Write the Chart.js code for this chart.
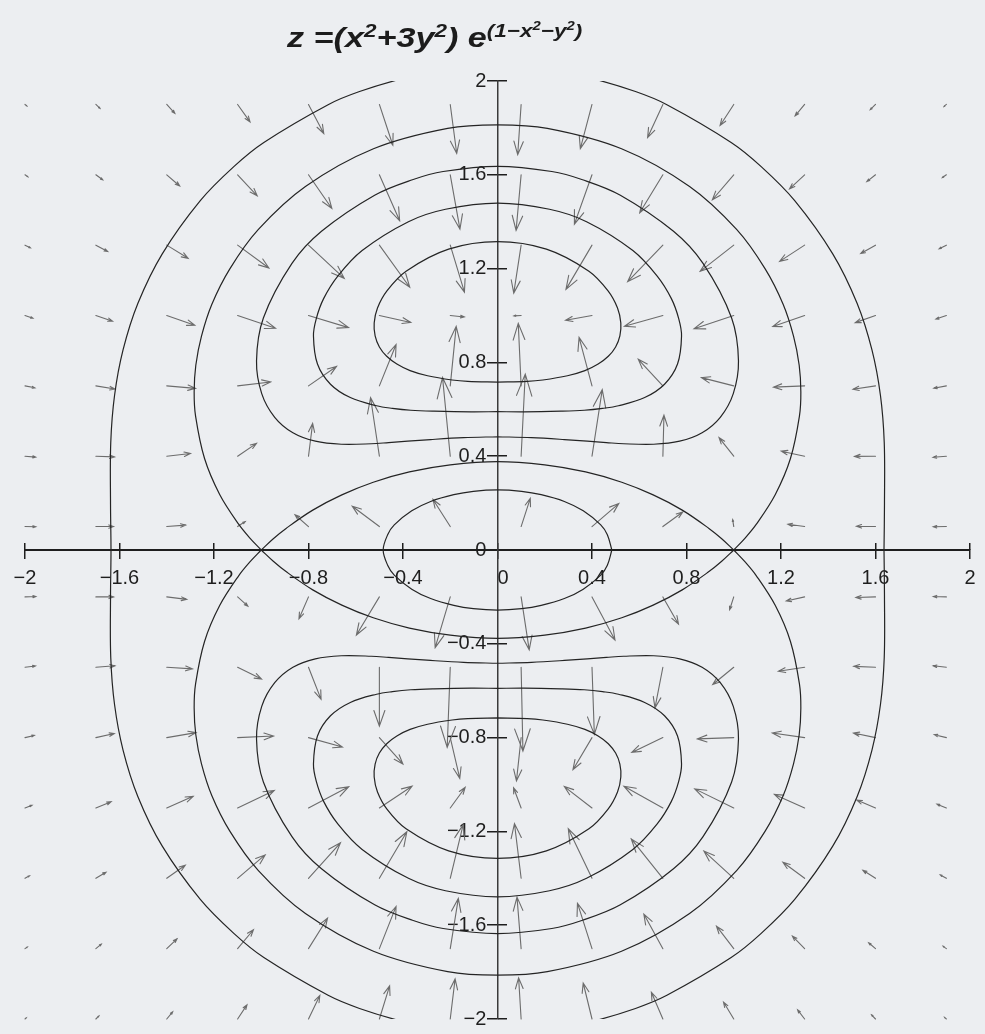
<!DOCTYPE html>
<html>
<head>
<meta charset="utf-8">
<title>z=(x²+3y²) e^(1-x²-y²)</title>
<script src="https://cdn.jsdelivr.net/npm/chart.js@4.4.1/dist/chart.umd.min.js"></script>
<style>
    html, body { margin: 0; padding: 0; background: #eceef1; }
    #contenedor { position: relative; width: 985px; height: 1034px; }
    #grafica { position: absolute; left: 0; top: 0; }
    #titulo {
        position: absolute; left: 287px; top: 24px;
        font: italic bold 28px "Liberation Sans", Arial, sans-serif;
        line-height: 28px; color: #1c1c1c; white-space: nowrap;
        transform: scaleX(1.22); transform-origin: 0 0;
    }
    #titulo sup { font-size: 66%; vertical-align: baseline; position: relative; top: -0.55em; }
</style>
</head>
<body>
<div id="contenedor">
    <canvas id="grafica" width="985" height="1034"></canvas>
    <div id="titulo">z =(x<sup>2</sup>+3y<sup>2</sup>) e<sup>(1−x<sup>2</sup>−y<sup>2</sup>)</sup></div>
</div>
<script>
window.onload = main;

// marcas de los ejes
const marcas = [-2, -1.6, -1.2, -0.8, -0.4, 0, 0.4, 0.8, 1.2, 1.6, 2];
const etiquetasX = ['−2', '−1.6', '−1.2', '−0.8', '−0.4', '0', '0.4', '0.8', '1.2', '1.6', '2'];
const etiquetasY = ['−2', '−1.6', '−1.2', '−0.8', '−0.4', '0', '0.4', '0.8', '1.2', '1.6', '2'];

// malla del campo de gradientes
const mallaX = [-2, -1.7, -1.4, -1.1, -0.8, -0.5, -0.2, 0.1, 0.4, 0.7, 1.0, 1.3, 1.6, 1.9];
const mallaY = [1.9, 1.6, 1.3, 1.0, 0.7, 0.4, 0.1, -0.2, -0.5, -0.8, -1.1, -1.4, -1.7, -2.0];

// componente x del gradiente (una fila por cada valor de mallaY)
const gradU = [
    [0.10, 0.23, 0.45, 0.69, 0.85, 0.75, 0.36, -0.19, -0.65, -0.85, -0.76, -0.53, -0.29, -0.13],
    [0.16, 0.38, 0.72, 1.09, 1.30, 1.13, 0.54, -0.28, -0.98, -1.29, -1.19, -0.84, -0.48, -0.22],
    [0.30, 0.66, 1.19, 1.74, 1.99, 1.69, 0.79, -0.41, -1.45, -1.96, -1.87, -1.39, -0.82, -0.40],
    [0.44, 0.93, 1.56, 2.11, 2.23, 1.75, 0.78, -0.40, -1.47, -2.14, -2.21, -1.77, -1.13, -0.58],
    [0.55, 1.06, 1.60, 1.84, 1.56, 0.93, 0.33, -0.16, -0.72, -1.37, -1.80, -1.73, -1.25, -0.70],
    [0.59, 1.04, 1.32, 1.05, 0.23, -0.49, -0.43, 0.23, 0.57, 0.06, -0.82, -1.30, -1.17, -0.74],
    [0.60, 0.98, 1.05, 0.42, -0.75, -1.51, -0.96, 0.51, 1.49, 1.11, -0.06, -0.93, -1.06, -0.73],
    [0.60, 0.99, 1.11, 0.57, -0.53, -1.28, -0.84, 0.45, 1.28, 0.87, -0.23, -1.02, -1.09, -0.73],
    [0.58, 1.06, 1.43, 1.33, 0.70, 0.00, -0.17, 0.10, 0.13, -0.44, -1.17, -1.46, -1.21, -0.73],
    [0.52, 1.03, 1.63, 2.00, 1.89, 1.31, 0.53, -0.26, -1.06, -1.73, -2.03, -1.80, -1.23, -0.67],
    [0.39, 0.85, 1.47, 2.04, 2.24, 1.82, 0.83, -0.42, -1.54, -2.17, -2.17, -1.68, -1.04, -0.52],
    [0.25, 0.56, 1.03, 1.53, 1.78, 1.53, 0.72, -0.37, -1.32, -1.76, -1.66, -1.21, -0.70, -0.34],
    [0.13, 0.30, 0.57, 0.88, 1.06, 0.93, 0.45, -0.23, -0.81, -1.06, -0.96, -0.68, -0.38, -0.18],
    [0.07, 0.17, 0.33, 0.52, 0.63, 0.57, 0.27, -0.14, -0.49, -0.64, -0.57, -0.39, -0.22, -0.10]
];

// componente y del gradiente
const gradV = [
    [-0.08, -0.22, -0.50, -0.98, -1.63, -2.29, -2.75, -2.82, -2.48, -1.86, -1.18, -0.64, -0.29, -0.11],
    [-0.11, -0.28, -0.63, -1.18, -1.89, -2.58, -3.05, -3.12, -2.77, -2.13, -1.40, -0.79, -0.38, -0.15],
    [-0.15, -0.36, -0.74, -1.28, -1.86, -2.36, -2.64, -2.69, -2.48, -2.05, -1.47, -0.91, -0.47, -0.20],
    [-0.15, -0.32, -0.55, -0.72, -0.68, -0.39, -0.08, -0.02, -0.27, -0.60, -0.74, -0.62, -0.40, -0.20],
    [-0.11, -0.18, -0.14, 0.22, 1.09, 2.32, 3.34, 3.51, 2.72, 1.49, 0.46, -0.07, -0.19, -0.13],
    [-0.05, -0.04, 0.15, 0.72, 1.84, 3.28, 4.42, 4.61, 3.73, 2.30, 1.04, 0.28, -0.01, -0.06],
    [-0.01, 0.00, 0.08, 0.28, 0.66, 1.14, 1.52, 1.58, 1.29, 0.82, 0.39, 0.13, 0.02, -0.01],
    [0.02, 0.00, -0.14, -0.52, -1.23, -2.14, -2.85, -2.97, -2.42, -1.53, -0.72, -0.23, -0.03, 0.02],
    [0.07, 0.08, -0.09, -0.66, -1.80, -3.30, -4.50, -4.70, -3.77, -2.28, -0.97, -0.22, 0.05, 0.08],
    [0.12, 0.23, 0.28, 0.09, -0.53, -1.48, -2.29, -2.43, -1.80, -0.83, -0.07, 0.26, 0.26, 0.16],
    [0.15, 0.35, 0.65, 0.98, 1.19, 1.22, 1.15, 1.13, 1.20, 1.22, 1.07, 0.76, 0.44, 0.21],
    [0.14, 0.34, 0.73, 1.31, 1.99, 2.61, 3.01, 3.07, 2.78, 2.21, 1.53, 0.90, 0.45, 0.19],
    [0.09, 0.25, 0.55, 1.06, 1.71, 2.37, 2.82, 2.89, 2.55, 1.94, 1.26, 0.70, 0.33, 0.13],
    [0.06, 0.17, 0.40, 0.79, 1.32, 1.86, 2.25, 2.31, 2.02, 1.50, 0.95, 0.51, 0.23, 0.09]
];

const escalaFlechas = 0.076;

// curvas de nivel z = 0.5
const nivel05Centro = [
    [0.484, 0], [0.465, 0.065], [0.437, 0.107], [0.363, 0.167], [0.283, 0.207], [0.185, 0.236], [0.102, 0.250], [0, 0.256],
    [-0.102, 0.250], [-0.185, 0.236], [-0.283, 0.207], [-0.363, 0.167], [-0.437, 0.107], [-0.465, 0.065], [-0.484, 0],
    [-0.465, -0.065], [-0.437, -0.107], [-0.363, -0.167], [-0.283, -0.207], [-0.185, -0.236], [-0.102, -0.250], [0, -0.256],
    [0.102, -0.250], [0.185, -0.236], [0.283, -0.207], [0.363, -0.167], [0.437, -0.107], [0.465, -0.065], [0.484, 0]
];
const nivel05Exterior = [
    [1.636, 0], [1.638, 0.196], [1.637, 0.458], [1.621, 0.659], [1.585, 0.853], [1.522, 1.052], [1.419, 1.263], [1.258, 1.490],
    [1.115, 1.636], [0.989, 1.738], [0.717, 1.899], [0.584, 1.955], [0.395, 2.012], [0.243, 2.041], [0, 2.058],
    [-0.243, 2.041], [-0.395, 2.012], [-0.584, 1.955], [-0.717, 1.899], [-0.989, 1.738], [-1.115, 1.636], [-1.258, 1.490],
    [-1.419, 1.263], [-1.522, 1.052], [-1.585, 0.853], [-1.621, 0.659], [-1.637, 0.458], [-1.638, 0.196], [-1.636, 0],
    [-1.638, -0.196], [-1.637, -0.458], [-1.621, -0.659], [-1.585, -0.853], [-1.522, -1.052], [-1.419, -1.263], [-1.258, -1.490],
    [-1.115, -1.636], [-0.989, -1.738], [-0.717, -1.899], [-0.584, -1.955], [-0.395, -2.012], [-0.243, -2.041], [0, -2.058],
    [0.243, -2.041], [0.395, -2.012], [0.584, -1.955], [0.717, -1.899], [0.989, -1.738], [1.115, -1.636], [1.258, -1.490],
    [1.419, -1.263], [1.522, -1.052], [1.585, -0.853], [1.621, -0.659], [1.637, -0.458], [1.638, -0.196], [1.636, 0]
];

// z = 1 (se cruza en x = ±1)
const nivel1CentroSup = [
    [1, 0], [0.949, 0.048], [0.895, 0.092], [0.782, 0.170], [0.659, 0.235], [0.526, 0.289], [0.373, 0.333], [0.200, 0.363], [0, 0.377],
    [-0.200, 0.363], [-0.373, 0.333], [-0.526, 0.289], [-0.659, 0.235], [-0.782, 0.170], [-0.895, 0.092], [-0.949, 0.048], [-1, 0]
];
const nivel1CentroInf = [
    [1, 0], [0.949, -0.048], [0.895, -0.092], [0.782, -0.170], [0.659, -0.235], [0.526, -0.289], [0.373, -0.333], [0.200, -0.363], [0, -0.377],
    [-0.200, -0.363], [-0.373, -0.333], [-0.526, -0.289], [-0.659, -0.235], [-0.782, -0.170], [-0.895, -0.092], [-0.949, -0.048], [-1, 0]
];
const nivel1ExteriorSup = [
    [1, 0], [1.049, 0.052], [1.095, 0.109], [1.176, 0.237], [1.240, 0.390], [1.278, 0.571], [1.284, 0.674], [1.277, 0.788],
    [1.253, 0.912], [1.209, 1.048], [1.133, 1.199], [1.013, 1.366], [0.813, 1.550], [0.525, 1.711], [0.211, 1.798], [0, 1.813],
    [-0.211, 1.798], [-0.525, 1.711], [-0.813, 1.550], [-1.013, 1.366], [-1.133, 1.199], [-1.209, 1.048], [-1.253, 0.912],
    [-1.277, 0.788], [-1.284, 0.674], [-1.278, 0.571], [-1.240, 0.390], [-1.176, 0.237], [-1.095, 0.109], [-1.049, 0.052], [-1, 0]
];
const nivel1ExteriorInf = [
    [1, 0], [1.049, -0.052], [1.095, -0.109], [1.176, -0.237], [1.240, -0.390], [1.278, -0.571], [1.284, -0.674], [1.277, -0.788],
    [1.253, -0.912], [1.209, -1.048], [1.133, -1.199], [1.013, -1.366], [0.813, -1.550], [0.525, -1.711], [0.211, -1.798], [0, -1.813],
    [-0.211, -1.798], [-0.525, -1.711], [-0.813, -1.550], [-1.013, -1.366], [-1.133, -1.199], [-1.209, -1.048], [-1.253, -0.912],
    [-1.277, -0.788], [-1.284, -0.674], [-1.278, -0.571], [-1.240, -0.390], [-1.176, -0.237], [-1.095, -0.109], [-1.049, -0.052], [-1, 0]
];

// z = 1.5
const nivel15Sup = [
    [0, 0.483], [0.144, 0.479], [0.283, 0.471], [0.380, 0.464], [0.461, 0.458], [0.534, 0.453], [0.661, 0.451], [0.771, 0.464],
    [0.866, 0.500], [0.943, 0.566], [0.998, 0.667], [1.020, 0.806], [0.991, 0.989], [0.870, 1.222], [0.745, 1.359], [0.520, 1.513],
    [0.360, 1.579], [0.230, 1.614], [0, 1.636], [-0.230, 1.614], [-0.360, 1.579], [-0.520, 1.513], [-0.745, 1.359], [-0.870, 1.222],
    [-0.991, 0.989], [-1.020, 0.806], [-0.998, 0.667], [-0.943, 0.566], [-0.866, 0.500], [-0.771, 0.464], [-0.661, 0.451],
    [-0.534, 0.453], [-0.461, 0.458], [-0.380, 0.464], [-0.283, 0.471], [-0.144, 0.479], [0, 0.483]
];
const nivel15Inf = [
    [0, -0.483], [0.144, -0.479], [0.283, -0.471], [0.380, -0.464], [0.461, -0.458], [0.534, -0.453], [0.661, -0.451], [0.771, -0.464],
    [0.866, -0.500], [0.943, -0.566], [0.998, -0.667], [1.020, -0.806], [0.991, -0.989], [0.870, -1.222], [0.745, -1.359], [0.520, -1.513],
    [0.360, -1.579], [0.230, -1.614], [0, -1.636], [-0.230, -1.614], [-0.360, -1.579], [-0.520, -1.513], [-0.745, -1.359], [-0.870, -1.222],
    [-0.991, -0.989], [-1.020, -0.806], [-0.998, -0.667], [-0.943, -0.566], [-0.866, -0.500], [-0.771, -0.464], [-0.661, -0.451],
    [-0.534, -0.453], [-0.461, -0.458], [-0.380, -0.464], [-0.283, -0.471], [-0.144, -0.479], [0, -0.483]
];

// z = 2
const nivel2Sup = [
    [0, 0.590], [0.112, 0.589], [0.269, 0.592], [0.367, 0.596], [0.445, 0.604], [0.512, 0.615], [0.623, 0.650], [0.707, 0.707],
    [0.762, 0.793], [0.779, 0.913], [0.767, 0.987], [0.736, 1.072], [0.676, 1.168], [0.573, 1.277], [0.377, 1.400], [0.220, 1.453],
    [0, 1.479], [-0.220, 1.453], [-0.377, 1.400], [-0.573, 1.277], [-0.676, 1.168], [-0.736, 1.072], [-0.767, 0.987], [-0.779, 0.913],
    [-0.762, 0.793], [-0.707, 0.707], [-0.623, 0.650], [-0.512, 0.615], [-0.445, 0.604], [-0.367, 0.596], [-0.269, 0.592],
    [-0.112, 0.589], [0, 0.590]
];
const nivel2Inf = [
    [0, -0.590], [0.112, -0.589], [0.269, -0.592], [0.367, -0.596], [0.445, -0.604], [0.512, -0.615], [0.623, -0.650], [0.707, -0.707],
    [0.762, -0.793], [0.779, -0.913], [0.767, -0.987], [0.736, -1.072], [0.676, -1.168], [0.573, -1.277], [0.377, -1.400], [0.220, -1.453],
    [0, -1.479], [-0.220, -1.453], [-0.377, -1.400], [-0.573, -1.277], [-0.676, -1.168], [-0.736, -1.072], [-0.767, -0.987], [-0.779, -0.913],
    [-0.762, -0.793], [-0.707, -0.707], [-0.623, -0.650], [-0.512, -0.615], [-0.445, -0.604], [-0.367, -0.596], [-0.269, -0.592],
    [-0.112, -0.589], [0, -0.590]
];

// z = 2.5
const nivel25Sup = [
    [0, 0.716], [0.126, 0.719], [0.192, 0.725], [0.296, 0.743], [0.370, 0.765], [0.426, 0.793], [0.469, 0.826], [0.500, 0.866],
    [0.518, 0.913], [0.522, 0.968], [0.508, 1.032], [0.468, 1.105], [0.387, 1.189], [0.207, 1.283], [0, 1.315],
    [-0.207, 1.283], [-0.387, 1.189], [-0.468, 1.105], [-0.508, 1.032], [-0.522, 0.968], [-0.518, 0.913], [-0.500, 0.866],
    [-0.469, 0.826], [-0.426, 0.793], [-0.370, 0.765], [-0.296, 0.743], [-0.192, 0.725], [-0.126, 0.719], [0, 0.716]
];
const nivel25Inf = [
    [0, -0.716], [0.126, -0.719], [0.192, -0.725], [0.296, -0.743], [0.370, -0.765], [0.426, -0.793], [0.469, -0.826], [0.500, -0.866],
    [0.518, -0.913], [0.522, -0.968], [0.508, -1.032], [0.468, -1.105], [0.387, -1.189], [0.207, -1.283], [0, -1.315],
    [-0.207, -1.283], [-0.387, -1.189], [-0.468, -1.105], [-0.508, -1.032], [-0.522, -0.968], [-0.518, -0.913], [-0.500, -0.866],
    [-0.469, -0.826], [-0.426, -0.793], [-0.370, -0.765], [-0.296, -0.743], [-0.192, -0.725], [-0.126, -0.719], [0, -0.716]
];

const curvas = [
    nivel05Centro, nivel05Exterior,
    nivel1CentroSup, nivel1CentroInf, nivel1ExteriorSup, nivel1ExteriorInf,
    nivel15Sup, nivel15Inf, nivel2Sup, nivel2Inf, nivel25Sup, nivel25Inf
];

function main() {
    dibujarGrafica();
}

// dibuja las flechas del gradiente con las escalas de la grafica
const pluginFlechas = {
    id: 'flechas',
    beforeDatasetsDraw: function (chart) {
        var ctx = chart.ctx;
        var ex = chart.scales.x;
        var ey = chart.scales.y;
        ctx.save();
        ctx.strokeStyle = '#6c6c6c';
        ctx.lineWidth = 1.1;
        ctx.lineCap = 'round';
        for (var j = 0; j < mallaY.length; j++) {
            for (var i = 0; i < mallaX.length; i++) {
                var x0 = ex.getPixelForValue(mallaX[i]);
                var y0 = ey.getPixelForValue(mallaY[j]);
                var x1 = ex.getPixelForValue(mallaX[i] + escalaFlechas * gradU[j][i]);
                var y1 = ey.getPixelForValue(mallaY[j] + escalaFlechas * gradV[j][i]);
                var dx = x1 - x0, dy = y1 - y0;
                var largo = Math.sqrt(dx * dx + dy * dy);
                if (largo < 0.6) continue;
                var ang = Math.atan2(dy, dx);
                var punta = 0.28 * largo;
                ctx.beginPath();
                ctx.moveTo(x0, y0);
                ctx.lineTo(x1, y1);
                ctx.moveTo(x1 - punta * Math.cos(ang - 0.34), y1 - punta * Math.sin(ang - 0.34));
                ctx.lineTo(x1, y1);
                ctx.lineTo(x1 - punta * Math.cos(ang + 0.34), y1 - punta * Math.sin(ang + 0.34));
                ctx.stroke();
            }
        }
        ctx.restore();
    }
};

function ejeHorizontal(conEtiquetas, largoMarca) {
    return {
        type: 'linear', min: -2, max: 2,
        position: { y: 0 },
        border: { display: conEtiquetas, color: '#1e1e1e', width: 2 },
        grid: { drawOnChartArea: false, drawTicks: true, tickLength: largoMarca, color: '#1e1e1e', lineWidth: 1.5 },
        afterBuildTicks: function (eje) {
            eje.ticks = marcas.map(function (v) { return { value: v }; });
        },
        ticks: {
            display: conEtiquetas,
            autoSkip: false, maxRotation: 0, padding: 8,
            color: '#1e1e1e', font: { size: 20 },
            // el cero va un poco a la derecha del eje vertical
            callback: function (v, i) { return v === 0 ? '  ' + etiquetasX[i] : etiquetasX[i]; }
        }
    };
}

function ejeVertical(conEtiquetas, largoMarca) {
    return {
        type: 'linear', min: -2, max: 2,
        position: { x: 0 },
        border: { display: conEtiquetas, color: '#3a3a3a', width: 1.5 },
        grid: { drawOnChartArea: false, drawTicks: true, tickLength: largoMarca, color: '#1e1e1e', lineWidth: 1.5 },
        afterBuildTicks: function (eje) {
            eje.ticks = marcas.map(function (v) { return { value: v }; });
        },
        ticks: {
            display: conEtiquetas,
            autoSkip: false, padding: 2,
            color: '#1e1e1e', font: { size: 20 },
            callback: function (v, i) { return etiquetasY[i] + '  '; }
        }
    };
}

function dibujarGrafica() {
    Chart.defaults.font.family = '"Liberation Sans", Arial, sans-serif';

    var datasets = curvas.map(function (curva) {
        return {
            data: curva.map(function (p) { return { x: p[0], y: p[1] }; }),
            showLine: true,
            borderColor: '#242424',
            borderWidth: 1.2,
            pointRadius: 0,
            tension: 0.35,
            fill: false
        };
    });

    const ctx = document.getElementById('grafica').getContext('2d');
    const grafica = new Chart(ctx, {
        type: 'scatter',
        data: { datasets: datasets },
        plugins: [pluginFlechas],
        options: {
            responsive: false,
            animation: false,
            events: [],
            layout: { padding: { left: 25, right: 15, top: 81, bottom: 15 } },
            plugins: {
                legend: { display: false },
                tooltip: { enabled: false }
            },
            scales: {
                x: ejeHorizontal(true, 8),
                x2: ejeHorizontal(false, -7),
                y: ejeVertical(true, 10),
                y2: ejeVertical(false, -9)
            }
        }
    });
}
</script>
</body>
</html>
